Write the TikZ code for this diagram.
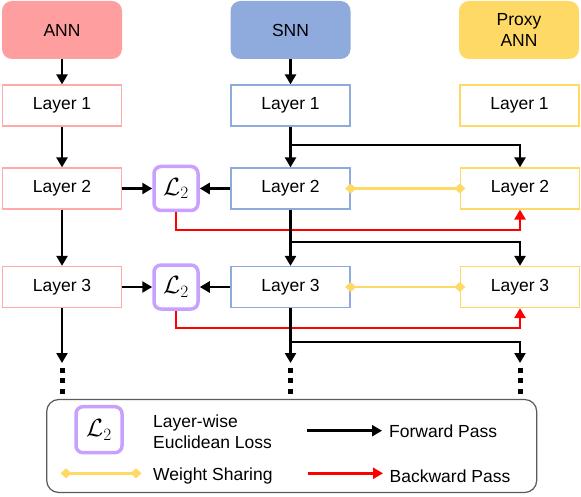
\documentclass[tikz,border=0pt]{standalone}
\usepackage{amsmath, amssymb}
\usepackage{fontspec}
\setmainfont{Liberation Sans}
\usetikzlibrary{positioning}
\usetikzlibrary{arrows.meta}

\definecolor{annred}{RGB}{255,158,158}
\definecolor{annline}{RGB}{255,170,170}
\definecolor{snnblue}{RGB}{143,170,220}
\definecolor{pxyellow}{RGB}{255,217,102}
\definecolor{losspurple}{RGB}{200,160,255}
\definecolor{legendgray}{RGB}{90,90,90}

\begin{document}
\begin{tikzpicture}[
x=1pt, y=-1pt,
font=\fontsize{17.5}{21}\selectfont,
fwd/.style={draw, line width=2.8pt, -{Triangle[length=10pt,width=11pt]}},
bwd/.style={draw=red, line width=2.7pt, -{Triangle[length=10pt,width=11pt]}},
share/.style={draw=pxyellow, line width=2.5pt, {Diamond[length=11pt,width=10pt]}-{Diamond[length=11pt,width=10pt]}, shorten <=-5.5pt, shorten >=-5.5pt},
more/.style={draw, line width=5pt, dash pattern=on 5pt off 5.7pt}
]

\tikzstyle{head} = [rounded corners=10pt, minimum width=120pt, minimum height=58pt, align=center, inner sep=0pt]
\tikzstyle{lay} = [draw, line width=1.3pt, fill=white, minimum width=119pt, minimum height=41pt, inner sep=0pt]
\tikzstyle{loss} = [draw=losspurple, line width=3.5pt, rounded corners=7pt, minimum width=44pt, minimum height=44pt, inner sep=0pt, font=\fontsize{24}{26}\selectfont]

\useasboundingbox (0,0) rectangle (581,497);

% column heads
\node[head, fill=annred] (ann) at (62,30) {ANN};
\node[head, fill=snnblue] (snn) at (290.5,30) {SNN};
\node[head, fill=pxyellow] (pxy) at (519,30) {Proxy\\ANN};

% layers
\node[lay, draw=annline] (ann1) at (62,105.5) {Layer 1};
\node[lay, draw=annline] (ann2) at (62,188.5) {Layer 2};
\node[lay, draw=annline] (ann3) at (62,287) {Layer 3};
\node[lay, draw=snnblue] (snn1) at (290.5,105.5) {Layer 1};
\node[lay, draw=snnblue] (snn2) at (290.5,188.5) {Layer 2};
\node[lay, draw=snnblue] (snn3) at (290.5,287) {Layer 3};
\node[lay, draw=pxyellow] (pxy1) at (519.5,105.5) {Layer 1};
\node[lay, draw=pxyellow] (pxy2) at (520,188.5) {Layer 2};
\node[lay, draw=pxyellow] (pxy3) at (520,287) {Layer 3};

% losses
\node[loss] (loss2) at (176,188.5) {$\mathcal{L}_2$};
\node[loss] (loss3) at (176,287) {$\mathcal{L}_2$};

% backward pass
\draw[bwd] (loss2.south) |- (snn2.south |- 0,230) -| (pxy2.south);
\draw[bwd] (loss3.south) |- (snn3.south |- 0,328) -| (pxy3.south);

% weight sharing
\draw[share] (snn2.east) -- (pxy2.west);
\draw[share] (snn3.east) -- (pxy3.west);

% forward pass
\coordinate (annend) at (62,363);
\coordinate (snnend) at (290.5,363);
\coordinate (pxyend) at (520,363);
\coordinate (br1) at (290.5,145);
\coordinate (br2) at (290.5,242);
\coordinate (br3) at (290.5,342);

\draw[fwd] (ann) -- (ann1);
\draw[fwd] (ann1) -- (ann2);
\draw[fwd] (ann2) -- (ann3);
\draw[fwd] (ann3) -- (annend);
\draw[fwd] (snn) -- (snn1);
\draw[fwd] (snn1) -- (snn2);
\draw[fwd] (snn2) -- (snn3);
\draw[fwd] (snn3) -- (snnend);
\draw[fwd] (br1) -| (pxy2.north);
\draw[fwd] (br2) -| (pxy3.north);
\draw[fwd] (br3) -| (pxyend);
\draw[fwd] (ann2) -- (loss2);
\draw[fwd] (snn2) -- (loss2);
\draw[fwd] (ann3) -- (loss3);
\draw[fwd] (snn3) -- (loss3);

% continuation dots
\draw[more] (62,367.7) -- (62,396);
\draw[more] (290.5,367.7) -- (290.5,396);
\draw[more] (520,367.7) -- (520,396);

% legend
\node[draw=legendgray, line width=1.2pt, rounded corners=12pt, minimum width=490pt, minimum height=93pt, inner sep=0pt] (legend) at (291.7,446) {};
\node[loss, minimum width=46pt, minimum height=46pt] (keyloss) at (99,429.7) {$\mathcal{L}_2$};
\node[anchor=west, align=left, inner sep=0pt] (keylosstxt) at (153,432) {Layer-wise\\Euclidean Loss};
\coordinate (fwda) at (307,430.7);
\coordinate (fwdb) at (382,430.7);
\draw[fwd] (fwda) -- (fwdb);
\node[anchor=west, inner sep=0pt] (fwdtxt) at (389,431) {Forward Pass};
\coordinate (sha) at (66,473.3);
\coordinate (shb) at (136,473.3);
\draw[share] (sha) -- (shb);
\node[anchor=west, inner sep=0pt] (shtxt) at (153,476) {Weight Sharing};
\coordinate (bwda) at (308,473.3);
\coordinate (bwdb) at (383,473.3);
\draw[bwd] (bwda) -- (bwdb);
\node[anchor=west, inner sep=0pt] (bwdtxt) at (389.5,476) {Backward Pass};
\end{tikzpicture}
\end{document}
